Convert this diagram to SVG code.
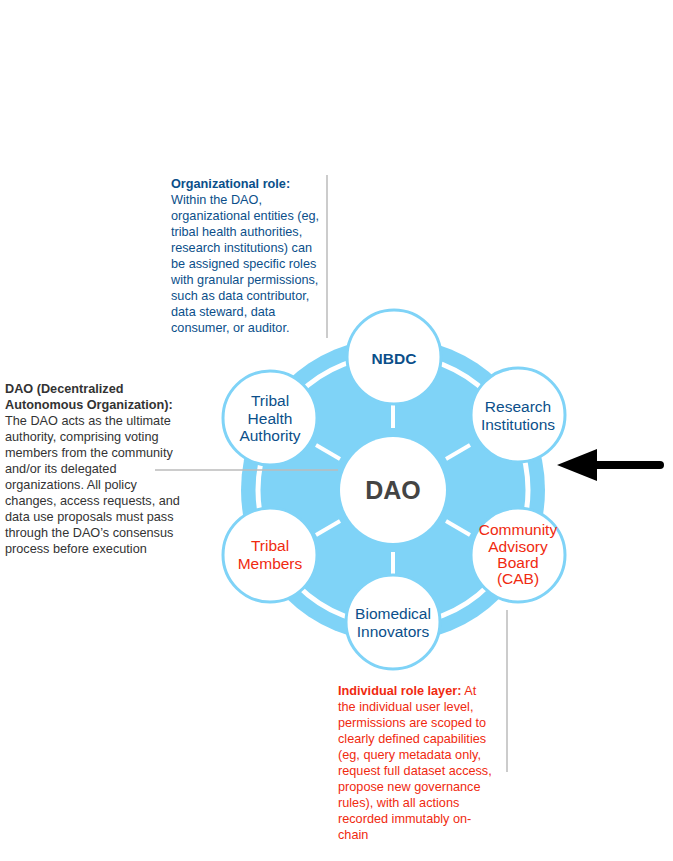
<svg xmlns="http://www.w3.org/2000/svg" width="673" height="861" viewBox="0 0 673 861">
<style>
text{font-family:"Liberation Sans",Arial,sans-serif}
.a{font-size:12.7px}
.b{fill:#0b4f8a}.r{fill:#f02a10}.k{fill:#333}
.n{font-size:15.5px;text-anchor:middle}
.node{fill:#fff;stroke:#7fd3f7;stroke-width:3}
.lead{stroke:#bbb;stroke-width:1.5;fill:none}
.sp{stroke:#fff;stroke-width:4}
</style>
<rect width="673" height="861" fill="#fff"/>
<g id="disk"><circle cx="393" cy="490" r="152" fill="#7fd3f7"/><circle cx="393" cy="490" r="135" fill="none" stroke="#fff" stroke-width="5"/></g>
<g id="connectors">
<g class="sp">
<line x1="393" y1="428" x2="393" y2="404"/>
<line x1="446" y1="459" x2="470" y2="445"/>
<line x1="446" y1="521" x2="470" y2="535"/>
<line x1="393" y1="552" x2="393" y2="576"/>
<line x1="340" y1="521" x2="316" y2="535"/>
<line x1="340" y1="459" x2="316" y2="445"/>
</g>
<line class="lead" x1="327" y1="175" x2="327" y2="338"/>
<line class="lead" x1="155" y1="470" x2="338" y2="470"/>
<line class="lead" x1="507" y1="610" x2="507" y2="772"/>
<line x1="660" y1="465" x2="590" y2="465" stroke="#000" stroke-width="8" stroke-linecap="round"/>
<polygon points="557,465 597,449 597,481" fill="#000"/>
</g>
<g id="dao"><circle cx="393" cy="490" r="53" fill="#fff"/><text x="393" y="499" text-anchor="middle" font-size="25" font-weight="bold" fill="#444">DAO</text></g>
<g id="nbdc"><circle class="node" cx="394" cy="357" r="47"/><text class="n b" x="394" y="364" font-size="19" font-weight="bold">NBDC</text></g>
<g id="research"><circle class="node" cx="518" cy="415" r="47"/><text class="n b" x="518" y="412">Research</text><text class="n b" x="518" y="430">Institutions</text></g>
<g id="cab"><circle class="node" cx="518" cy="555" r="47"/><text class="n r" x="518" y="535">Community</text><text class="n r" x="518" y="552">Advisory</text><text class="n r" x="518" y="568">Board</text><text class="n r" x="518" y="584">(CAB)</text></g>
<g id="biomedical"><circle class="node" cx="393" cy="622" r="47"/><text class="n b" x="393" y="619">Biomedical</text><text class="n b" x="393" y="637">Innovators</text></g>
<g id="tribalmembers"><circle class="node" cx="270" cy="555" r="47"/><text class="n r" x="270" y="551">Tribal</text><text class="n r" x="270" y="569">Members</text></g>
<g id="tribalhealth"><circle class="node" cx="270" cy="418" r="47"/><text class="n b" x="270" y="406">Tribal</text><text class="n b" x="270" y="424">Health</text><text class="n b" x="270" y="441">Authority</text></g>
<g id="note-org" class="a b">
<text x="171" y="188" font-weight="bold">Organizational role:</text>
<text x="171" y="204">Within the DAO,</text>
<text x="171" y="220">organizational entities (eg,</text>
<text x="171" y="236">tribal health authorities,</text>
<text x="171" y="252">research institutions) can</text>
<text x="171" y="268">be assigned specific roles</text>
<text x="171" y="284">with granular permissions,</text>
<text x="171" y="300">such as data contributor,</text>
<text x="171" y="316">data steward, data</text>
<text x="171" y="332">consumer, or auditor.</text>
</g>
<g id="note-dao" class="a k">
<text x="5" y="393" font-weight="bold">DAO (Decentralized</text>
<text x="5" y="409" font-weight="bold">Autonomous Organization):</text>
<text x="5" y="425">The DAO acts as the ultimate</text>
<text x="5" y="441">authority, comprising voting</text>
<text x="5" y="457">members from the community</text>
<text x="5" y="473">and/or its delegated</text>
<text x="5" y="489">organizations. All policy</text>
<text x="5" y="505">changes, access requests, and</text>
<text x="5" y="521">data use proposals must pass</text>
<text x="5" y="537">through the DAO’s consensus</text>
<text x="5" y="553">process before execution</text>
</g>
<g id="note-ind" class="a r">
<text x="338" y="695"><tspan font-weight="bold">Individual role layer:</tspan> At</text>
<text x="338" y="711">the individual user level,</text>
<text x="338" y="727">permissions are scoped to</text>
<text x="338" y="743">clearly defined capabilities</text>
<text x="338" y="759">(eg, query metadata only,</text>
<text x="338" y="775">request full dataset access,</text>
<text x="338" y="791">propose new governance</text>
<text x="338" y="807">rules), with all actions</text>
<text x="338" y="823">recorded immutably on-</text>
<text x="338" y="839">chain</text>
</g>
</svg>
